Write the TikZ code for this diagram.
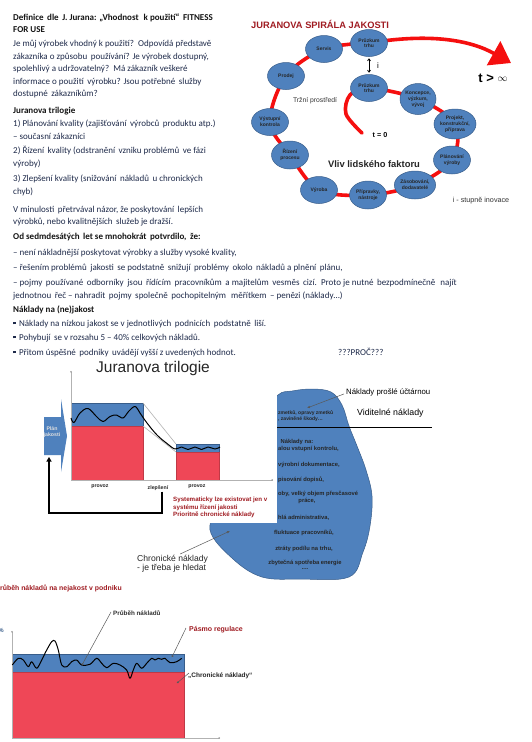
\documentclass[tikz,border=0pt]{standalone}
\usepackage{fontspec}
\setmainfont{Carlito}
\newfontfamily\arialf{Liberation Sans}
\usetikzlibrary{arrows.meta,shapes.geometric}
\definecolor{bodyc}{HTML}{1E2A4A}
\definecolor{headc}{HTML}{141414}
\definecolor{blueF}{HTML}{4F81BD}
\definecolor{blueD}{HTML}{385D8A}
\definecolor{redF}{HTML}{EF4757}
\definecolor{redD}{HTML}{A01C22}
\definecolor{spired}{HTML}{F50F0F}
\begin{document}
\begin{tikzpicture}[x=1pt,y=-1pt,
  body/.style={anchor=base west, inner sep=0pt, text=bodyc, font=\fontsize{9}{11}\selectfont},
  head/.style={anchor=base west, inner sep=0pt, text=headc, font=\bfseries\fontsize{9}{11}\selectfont},
  ell/.style={ellipse, draw=blueD, fill=blueF, line width=0.5pt, minimum width=37pt, minimum height=27pt, inner sep=0pt, align=center, text=black!85, font=\arialf\bfseries\fontsize{5}{5.8}\selectfont},
  spiral/.style={draw=spired, line width=3.6pt},
  sm/.style={inner sep=0pt, font=\arialf\bfseries\fontsize{5.8}{7}\selectfont, text=black!85, align=center},
  lead/.style={draw=gray!70!black, line width=0.5pt, -{Circle[length=2pt]}},
  leadar/.style={draw=gray!70!black, line width=0.5pt, -{Latex[length=3pt,width=2.5pt]}},
  ax/.style={draw=gray!60, line width=0.5pt, -{Circle[length=1.6pt,fill=black]}},
  wave/.style={draw=black, line width=1pt, line join=round}
]
\useasboundingbox[fill=white] (0,0) rectangle (532,742);

% ---------------- top-left text ----------------
\node[head] (b1) at (13,20) {Definice\, dle\, J. Jurana: „Vhodnost\,\, k použití“\, FITNESS};
\node[head] (b2) at (13,32) {FOR USE};
\node[body] (b3) at (13,46) {Je můj výrobek vhodný k použití?\, Odpovídá představě};
\node[body] (b4) at (13,59) {zákazníka o způsobu\, používání? Je výrobek dostupný,};
\node[body] (b5) at (13,71) {spolehlivý a udržovatelný?\, Má zákazník veškeré};
\node[body] (b6) at (13,84) {informace o použití\, výrobku? Jsou potřebné\, služby};
\node[body] (b7) at (13,96) {dostupné\, zákazníkům?};
\node[head] (b8) at (13,113) {Juranova trilogie};
\node[body] (b9) at (13,126) {1) Plánování kvality (zajišťování\, výrobců\, produktu atp.)};
\node[body] (b10) at (13,139) {– současní zákazníci};
\node[body] (b11) at (13,153) {2) Řízení\, kvality (odstranění\, vzniku problémů\, ve fázi};
\node[body] (b12) at (13,166) {výroby)};
\node[body] (b13) at (13,181) {3) Zlepšení kvality (snižování\, nákladů\, u chronických};
\node[body] (b14) at (13,194) {chyb)};
\node[body] (b15) at (13,212) {V minulosti\, přetrvával názor, že poskytování\, lepších};
\node[body] (b16) at (13,224) {výrobků, nebo kvalitnějších\, služeb je dražší.};
\node[head] (b17) at (13,239) {Od sedmdesátých\, let se mnohokrát\, potvrdilo,\, že:};
\node[body] (b18) at (13,255) {– není nákladnější poskytovat výrobky a služby vysoké kvality,};
\node[body] (b19) at (13,270) {– řešením problémů\, jakosti\, se podstatně\, snižují\, problémy\, okolo\, nákladů a plnění\, plánu,};
\node[body] (b20) at (13,285) {– pojmy\, používané\, odborníky\, jsou\, řídícím\, pracovníkům\, a majitelům\, vesměs\, cizí.\, Proto je nutné\, bezpodmínečně\,\, najít};
\node[body] (b21) at (13,298) {jednotnou\, řeč – nahradit\, pojmy\, společně\, pochopitelným\,\, měřítkem\, – penězi (náklady…)};
\node[head] (b22) at (13,312) {Náklady na (ne)jakost};
\node[body] (b23) at (13,326) {\raisebox{1.6pt}{\rule{2.3pt}{2.3pt}}\, Náklady na nízkou jakost se v jednotlivých\, podnicích\, podstatně\, liší.};
\node[body] (b24) at (13,340) {\raisebox{1.6pt}{\rule{2.3pt}{2.3pt}}\, Pohybují\, se v rozsahu 5 – 40\% celkových nákladů.};
\node[body] (b25) at (13,355) {\raisebox{1.6pt}{\rule{2.3pt}{2.3pt}}\, Přitom úspěšné\, podniky\, uvádějí vyšší z uvedených hodnot.};
\node[body] (b26) at (338,355) {???PROČ???};
\node[body] (b27) at (13,386) {Vysvět};

% ---------------- spiral ----------------
\node[anchor=base west, inner sep=0pt, text=redD, font=\arialf\bfseries\fontsize{9.3}{11}\selectfont] (stitle) at (251,28) {JURANOVA SPIRÁLA JAKOSTI};
\coordinate (t0) at (362,133);
\coordinate (c1) at (346,114);
\coordinate (c2) at (350,95);
\coordinate (pt2) at (369,88);
\coordinate (kv) at (418,99);
\coordinate (pk) at (455,124);
\coordinate (pv) at (452,160);
\coordinate (zd) at (415,185);
\coordinate (pn) at (368,195);
\coordinate (vy) at (319,190);
\coordinate (rp) at (290,155);
\coordinate (vk) at (270,122);
\coordinate (pr) at (286,76);
\coordinate (se) at (324,49);
\coordinate (pt1) at (369,43);
\coordinate (tinf) at (511,63);
\draw[spiral, line cap=round] plot[smooth, tension=0.55] coordinates {(t0) (c1) (c2) (pt2) (kv) (pk) (pv) (zd) (pn) (vy) (rp) (vk) (pr) (se) (pt1)};
\draw[spiral, -{Triangle[length=20pt,width=27pt]}] (pt1) .. controls (430,33) and (470,40) .. (tinf);

\node[ell] (npt1) at (pt1) {Průzkum\\trhu};
\node[ell] (nse) at (se) {Servis};
\node[ell] (npr) at (pr) {Prodej};
\node[ell] (npt2) at (pt2) {Průzkum\\trhu};
\node[ell, minimum height=31pt, minimum width=36pt] (nkv) at (kv) {Koncepce,\\výzkum,\\vývoj};
\node[ell] (nvk) at (vk) {Výstupní\\kontrola};
\node[ell, minimum height=30pt, minimum width=38pt] (npk) at (pk) {Projekt,\\konstrukční,\\příprava};
\node[ell, minimum height=28pt] (nrp) at (rp) {Řízení\\procesu};
\node[ell, minimum height=28pt] (npv) at (pv) {Plánování\\výroby};
\node[ell] (nvy) at (vy) {Výroba};
\node[ell, minimum height=28pt] (npn) at (pn) {Přípravky,\\nástroje};
\node[ell, minimum height=28pt] (nzd) at (zd) {Zásobování,\\dodavatelé};

\draw[black, line width=0.8pt, {Straight Barb[length=2pt,width=3pt]}-{Straight Barb[length=2pt,width=3pt]}] ([yshift=-1.5pt]npt1.south) -- ([yshift=1.5pt]npt2.north);
\node[inner sep=0pt, font=\arialf\fontsize{8}{9}\selectfont] (ilab) at (378,66) {i};
\node[inner sep=0pt, font=\arialf\bfseries\fontsize{13}{14}\selectfont] (tinfl) at (493,78) {t > \raisebox{0.5pt}{\fontsize{10}{10}\selectfont$\infty$}};
\node[inner sep=0pt, font=\arialf\fontsize{6.8}{8}\selectfont, text=black!80] (trh) at (315,101) {Tržní prostředí};
\node[inner sep=0pt, font=\arialf\bfseries\fontsize{7.2}{8}\selectfont] (tz) at (380,135) {t = 0};
\node[inner sep=0pt, font=\arialf\bfseries\fontsize{9.4}{11}\selectfont, text=black!85] (vliv) at (374,164) {Vliv lidského faktoru};
\node[inner sep=0pt, font=\arialf\fontsize{7.2}{8}\selectfont, text=black!80] (inov) at (481,201) {i - stupně inovace};

% ---------------- iceberg ----------------
\fill[blueF, draw=blueD, line width=0.5pt] plot[smooth cycle, tension=0.6] coordinates {(278,395) (292,391) (312,389) (331,392) (342,405) (349,426) (357,446) (366,470) (372,496) (370,526) (363,552) (349,577) (300,579) (262,577) (233,559) (210,530) (222,500) (240,460) (262,418)};

\node[sm, font=\arialf\bfseries\fontsize{5}{5.8}\selectfont, anchor=west] (ic1) at (278,413) {zmetků, opravy zmetků};
\node[sm, font=\arialf\bfseries\fontsize{5}{5.8}\selectfont, anchor=west] (ic2) at (278,419.5) {, zaviněné škody…};
\node[anchor=base west, inner sep=0pt, font=\arialf\fontsize{7.8}{9}\selectfont] (npu) at (346,394) {Náklady prošlé účtárnou};
\node[anchor=base west, inner sep=0pt, font=\arialf\fontsize{8.8}{10}\selectfont] (vid) at (357,415) {Viditelné náklady};
\coordinate (npudot) at (307,408);
\draw[leadar] ([xshift=-2pt,yshift=-2pt]npu.west) -- (npudot);
\coordinate (wl1) at (277,427);
\coordinate (wl2) at (432,427);
\draw[black, line width=0.6pt] (wl1) -- (wl2);
\node[sm] (ic3) at (297,442) {Náklady na:};
\node[sm, anchor=west] (ic4) at (278,449) {alou vstupní kontrolu,};
\node[sm, anchor=west] (ic5) at (278,465) {výrobní dokumentace,};
\node[sm, anchor=west] (ic6) at (278,479.5) {pisování dopisů,};
\node[sm, anchor=west] (ic7) at (278,494) {oby, velký objem přesčasové};
\node[sm] (ic8) at (307,501) {práce,};
\node[sm, anchor=west] (ic9) at (278,518) {hlá administrativa,};
\node[sm] (ic10) at (304,533) {fluktuace pracovníků,};
\node[sm] (ic11) at (304,549) {ztráty podílu na trhu,};
\node[sm] (ic12) at (305,563) {zbytečná spotřeba energie};
\node[sm] (ic13) at (305,569) {....};

% ---------------- trilogy chart ----------------
\fill[white] (0,362) rectangle (277,523);
\node[inner sep=0pt, font=\arialf\fontsize{15.5}{17}\selectfont, text=black!85] (jt) at (153,368) {Juranova trilogie};
\coordinate (o1) at (71,480);
\coordinate (ytop) at (71,371);
\coordinate (xend) at (273,480);
\fill[blueF, draw=blueD, line width=0.4pt] (71,403) rectangle (143,426);
\fill[redF, draw=redF!80!black, line width=0.4pt] (71,426) rectangle (143,480);
\fill[blueF, draw=blueD, line width=0.4pt] (176,444) rectangle (219,452);
\fill[redF, draw=redF!80!black, line width=0.4pt] (176,452) rectangle (219,480);
\draw[gray!60, line width=0.6pt] (143,403) -- (176,444);
\draw[gray!60, line width=0.6pt] (143,426) -- (176,452);
\draw[ax] (o1) -- (ytop);
\draw[ax] (o1) -- (xend);
\draw[wave] plot[smooth, tension=0.6] coordinates {(71,418) (74,422.5) (80,413) (88,408.5) (96.5,416.5) (103,421.5) (110,416.5) (116.5,415) (123,418) (128.5,411.5) (135,406.5) (140,413) (147,423) (157,435) (167,443.5) (175,449) (181.5,447) (188,449.5) (195,447) (201.5,449.5) (208,447) (215,449) (220,447)};
\fill[blueF] (44,417) -- (61,417) -- (61,399) -- (67,436) -- (61,472) -- (61,455) -- (44,455) -- cycle;
\node[sm, text=gray!25, font=\arialf\bfseries\fontsize{5.2}{6.2}\selectfont] (plan) at (52,432) {Plán\\jakosti};
\coordinate (planb) at (49,457);
\node[sm, text=gray!30!black, font=\arialf\bfseries\fontsize{5.2}{6}\selectfont] (pv1) at (100,487) {provoz};
\node[sm, text=gray!30!black, font=\arialf\bfseries\fontsize{5.2}{6}\selectfont] (zl) at (158,488) {zlepšení};
\node[sm, text=gray!30!black, font=\arialf\bfseries\fontsize{5.2}{6}\selectfont] (pv2) at (197,487) {provoz};
\draw[black, line width=1.8pt, -{Triangle[length=4.5pt,width=5pt]}] ([xshift=4pt,yshift=-1pt]zl.south) |- (49,513) -- (planb);
\node[anchor=north west, inner sep=0pt, align=left, text=redD, font=\arialf\bfseries\fontsize{6.2}{7.4}\selectfont] (sys) at (173,497) {Systematicky lze existovat jen v\\systému řízení jakosti\\Prioritně chronické náklady};

\node[anchor=north west, inner sep=0pt, align=left, font=\arialf\fontsize{8.6}{9.4}\selectfont, text=black!85] (chron) at (137,555) {Chronické náklady\\- je třeba je hledat};
\coordinate (chdot) at (230,531);
\draw[leadar] ([xshift=-28pt,yshift=1pt]chron.north east) -- (chdot);

% ---------------- bottom chart ----------------
\node[anchor=base west, inner sep=0pt, text=redD, font=\arialf\bfseries\fontsize{6.9}{8}\selectfont] (btitle) at (-4.6,590) {Průběh nákladů na nejakost v podniku};
\node[anchor=east, inner sep=0pt, text=blueD, font=\arialf\bfseries\fontsize{6}{7}\selectfont] (pct) at (4,630) {\%};
\fill[blueF, draw=blueD, line width=0.4pt] (12,654) rectangle (184,672);
\fill[redF, draw=redF!80!black, line width=0.4pt] (12,672) rectangle (184,738);
\coordinate (o2) at (12,738);
\coordinate (ytop2) at (12,631);
\coordinate (xend2) at (220,738);
\draw[ax] (o2) -- (ytop2);
\draw[ax] (o2) -- (xend2);
\draw[wave] plot[smooth, tension=0.55] coordinates {(12.3,665) (18.3,658.3) (23.3,660) (28.3,666.7) (31.7,661.7) (36.7,668.3) (41.7,660) (46.7,650) (51.7,641.7) (55,641) (58.3,650) (61.7,665) (66.7,666.7) (71.7,661.7) (76.7,660) (81.7,665) (90,664.3) (96.7,658.3) (101.7,663.3) (106.7,667.7) (113.3,663.3) (120,665) (126.7,670) (130,678.3) (133.3,670) (136.7,663.3) (141.7,668.3) (146.7,663.3) (151.7,658.3) (155,660) (158.3,658.3) (161.7,659.3) (165,658.3) (170,662.7) (176.7,661.7) (181.7,658.3)};
\node[anchor=west, inner sep=0pt, font=\arialf\bfseries\fontsize{6.3}{7}\selectfont, text=black!80] (prb) at (113,613) {Průběh nákladů};
\coordinate (prbdot) at (82,665);
\draw[lead] ([xshift=-2pt,yshift=1pt]prb.west) -- (prbdot);
\node[anchor=west, inner sep=0pt, font=\arialf\bfseries\fontsize{7}{8}\selectfont, text=redD] (pas) at (189,630) {Pásmo regulace};
\coordinate (pasdot) at (172,657);
\draw[lead] ([xshift=-3pt,yshift=2pt]pas.west) -- (pasdot);
\node[anchor=west, inner sep=0pt, font=\arialf\bfseries\fontsize{6.5}{7}\selectfont, text=black!85] (chn) at (188,676) {„Chronické náklady“};
\coordinate (chndot) at (177,683);
\draw[lead] ([xshift=1pt,yshift=3pt]chn.west) -- (chndot);
\end{tikzpicture}
\end{document}
